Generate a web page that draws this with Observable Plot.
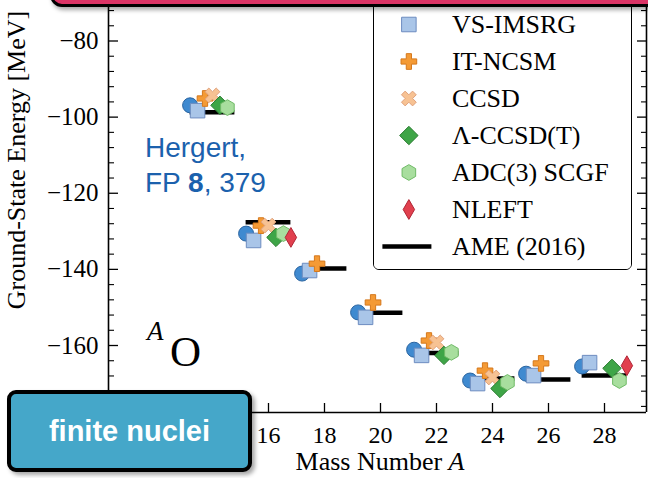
<!DOCTYPE html>
<html><head><meta charset="utf-8">
<script src="https://cdn.jsdelivr.net/npm/d3@7"></script>
<script src="https://cdn.jsdelivr.net/npm/@observablehq/plot@0.6"></script>
<style>
body{margin:0;background:#fff;}
#wrap{position:relative;width:648px;height:478px;overflow:hidden;font-family:"Liberation Serif",serif;background:#fff;}
#wrap svg{display:block;}
.abs{position:absolute;white-space:nowrap;}
#ylab{left:17px;top:160px;transform:translate(-50%,-50%) rotate(-90deg);font-size:26px;line-height:1;color:#000;}
#xlab{left:380px;top:449px;transform:translateX(-50%);font-size:26px;line-height:1;color:#000;}
#hergert{left:145px;top:130px;font-family:"Liberation Sans",Arial,sans-serif;font-size:28px;line-height:35px;color:#1b61ad;}
#isoA{left:147px;top:318px;font-size:27px;line-height:1;font-style:italic;}
#isoO{left:170px;top:330px;font-size:43px;line-height:1;}
#legendBox{left:373px;top:-12px;width:257px;height:280px;border:1.6px solid #000;border-radius:6px;background:#fff;overflow:hidden;}
#pink{left:50px;top:-40px;width:640px;height:41px;border:3px solid #000;border-radius:12px;background:#db3466;box-shadow:2px 3px 4px rgba(0,0,0,0.35);}
#finite{left:7px;top:390px;width:237px;height:74px;border:4px solid #000;border-radius:9px;background:#45a7c9;box-shadow:3px 3px 4px rgba(0,0,0,0.35);
  color:#fff;font-family:"Liberation Sans",Arial,sans-serif;font-weight:bold;font-size:29px;line-height:74px;text-align:center;}
</style></head><body><div id="wrap"></div>
<script>
// ---- data ----
const massNumbers = [14, 16, 18, 20, 22, 24, 26, 28];
const mrImsrg     = [-96.9, -130.6, -141.1, -151.3, -161.1, -169.2, -167.4, -165.5];
const vsImsrg     = [-98.3, -132.4, -140.3, -152.6, -162.6, -170.0, -167.9, -164.5];
const itNcsm      = [-95.1, -128.5, -138.5, -148.7, -158.7, -166.6, -164.7, null];
const ccsd        = [-94.3, -128.5, null, null, -159.2, -168.4, null, null];
const lambdaCcsdT = [-96.9, -131.6, null, null, -162.6, -171.3, null, -166.0];
const adc3Scgf    = [-97.5, -130.6, null, null, -161.8, -169.7, null, -169.2];
const nleft       = [null, -131.6, null, null, null, null, null, -165.3];
const ame2016     = [-98.7, -127.6, -139.8, -151.4, -162.0, -168.7, -168.9, -167.9];

const seriesNames = ["MR-IMSRG", "VS-IMSRG", "IT-NCSM", "CCSD", "Λ-CCSD(T)", "ADC(3) SCGF", "NLEFT"];
const ameName = "AME (2016)";
const legendLabels = ["VS-IMSRG", "IT-NCSM", "CCSD", "Λ-CCSD(T)", "ADC(3) SCGF", "NLEFT", "AME (2016)"];

const xTickValues = [12, 14, 16, 18, 20, 22, 24, 26, 28];
const xTickLabels = [16, 18, 20, 22, 24, 26, 28];
const yMajorTicks = [-160, -140, -120, -100, -80];
const yMinorTicks = [-176, -172, -168, -164, -156, -152, -148, -144, -136, -132, -128, -124, -116, -112, -108, -104, -96, -92, -88, -84, -76, -72];

// ---- layout / style ----
const xDomain = [10.286, 29.5];
const yDomain = [-177.6, -69.36];
const slotOffsets = [-0.8, -0.533, -0.267, 0, 0.267, 0.533, 0.8];
const ameHalfWidth = 0.8;

const symbolX = {
  draw(ctx, size) {
    const r = Math.sqrt(size / 5) / 2, c = Math.SQRT1_2;
    const pts = [[-3,-1],[-1,-1],[-1,-3],[1,-3],[1,-1],[3,-1],[3,1],[1,1],[1,3],[-1,3],[-1,1],[-3,1]];
    pts.forEach(([x, y], i) => {
      const X = (x - y) * c * r, Y = (x + y) * c * r;
      i ? ctx.lineTo(X, Y) : ctx.moveTo(X, Y);
    });
    ctx.closePath();
  }
};

const seriesValues = [mrImsrg, vsImsrg, itNcsm, ccsd, lambdaCcsdT, adc3Scgf, nleft];
const seriesStyles = [
  {symbol: "circle",   r: 7.5, fill: "#3f8ad0", stroke: "#2a64a0"},
  {symbol: "square",   r: 8.2, fill: "#a9c5e8", stroke: "#6d8cc0"},
  {symbol: "cross",    r: 6.6, fill: "#f49a35", stroke: "#d5781c"},
  {symbol: symbolX,    r: 6.6, fill: "#f7c293", stroke: "#e0a27d"},
  {symbol: "diamond2", r: 8.3, fill: "#3ea547", stroke: "#2b7c31"},
  {symbol: "hexagon",  r: 6.8, fill: "#a8de9e", stroke: "#6fba66"},
  {symbol: "diamond",  r: 6,   fill: "#e1404e", stroke: "#b02535"}
];

const fmtMinus = d => (d < 0 ? "\u2212" + Math.abs(d) : String(d));

const rowsOf = vals => massNumbers.map((A, i) => ({A, E: vals[i]})).filter(d => d.E != null);

const dotMarks = seriesValues.map((vals, k) => {
  const s = seriesStyles[k];
  return Plot.dot(rowsOf(vals), {
    x: d => d.A + slotOffsets[k], y: "E",
    symbol: s.symbol, r: s.r, fill: s.fill, stroke: s.stroke, strokeWidth: 1
  });
});

const chart = Plot.plot({
  width: 648, height: 478,
  marginLeft: 108, marginRight: 2, marginTop: 0, marginBottom: 66,
  x: {domain: xDomain},
  y: {domain: yDomain},
  style: {fontFamily: "'Liberation Serif', serif", fontSize: "24px", background: "white", color: "black", overflow: "visible"},
  marks: [
    Plot.axisY(yMajorTicks, {anchor: "left", tickSize: 0, tickPadding: 10, tickFormat: fmtMinus, fontSize: 25, label: null}),
    Plot.axisY(yMajorTicks, {anchor: "left", tickSize: -10, fill: "none", label: null, strokeWidth: 1.3}),
    Plot.axisY(yMinorTicks, {anchor: "left", tickSize: -6, fill: "none", label: null, strokeWidth: 1.1}),
    Plot.axisY(yMajorTicks, {anchor: "right", tickSize: -10, fill: "none", label: null, strokeWidth: 1.3}),
    Plot.axisY(yMinorTicks, {anchor: "right", tickSize: -6, fill: "none", label: null, strokeWidth: 1.1}),
    Plot.axisX(xTickLabels, {anchor: "bottom", tickSize: 0, tickPadding: 13, fontSize: 24, label: null}),
    Plot.axisX(xTickValues, {anchor: "bottom", tickSize: -9, fill: "none", label: null, strokeWidth: 1.3}),
    Plot.ruleX([xDomain[0], xDomain[1]], {stroke: "black", strokeWidth: 1.6}),
    Plot.ruleY([yDomain[0]], {stroke: "black", strokeWidth: 1.6}),
    Plot.ruleY(rowsOf(ame2016), {y: "E", x1: d => d.A - ameHalfWidth, x2: d => d.A + ameHalfWidth, stroke: "black", strokeWidth: 4.5}),
    ...dotMarks
  ]
});

// ---- legend (its own small Plot) ----
const legendDots = legendLabels.slice(0, 6).map(name => {
  const s = seriesStyles[seriesNames.indexOf(name)];
  return Plot.dot([name], {x: 0.53, y: d => d, symbol: s.symbol, r: s.r, fill: s.fill, stroke: s.stroke, strokeWidth: 1});
});
const legend = Plot.plot({
  width: 257, height: 280, margin: 0,
  x: {domain: [0, 1], range: [8.4, 57.4], axis: null},
  y: {type: "point", domain: legendLabels, range: [34.4, 257.4], padding: 0, axis: null},
  style: {fontFamily: "'Liberation Serif', serif", fontSize: "26px", background: "white", color: "black"},
  marks: [
    Plot.ruleY([ameName], {y: d => d, x1: 0, x2: 1, stroke: "black", strokeWidth: 4.5}),
    ...legendDots,
    Plot.text(legendLabels, {x: 1, y: d => d, dx: 20, textAnchor: "start", fontSize: 26})
  ]
});

const wrap = document.getElementById("wrap");
wrap.appendChild(chart);

function add(id, html) {
  const el = document.createElement("div");
  el.id = id; el.className = "abs"; el.innerHTML = html;
  wrap.appendChild(el);
  return el;
}
add("ylab", "Ground-State Energy [MeV]");
add("xlab", "Mass Number <i>A</i>");
add("hergert", "Hergert,<br>FP <b>8</b>, 379");
add("isoA", "A");
add("isoO", "O");
const lb = add("legendBox", "");
lb.appendChild(legend);
add("pink", "");
add("finite", "finite nuclei");
</script>
</body></html>
